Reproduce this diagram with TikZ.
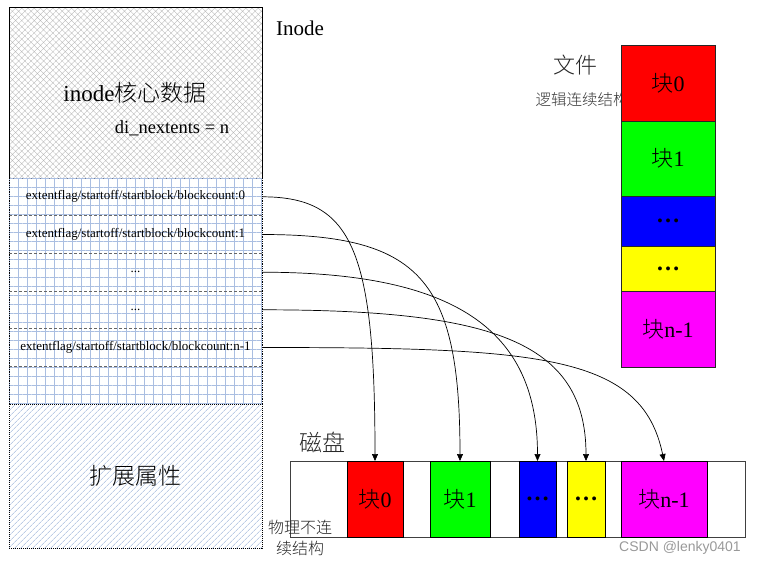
\documentclass[tikz,border=0pt]{standalone}
\usepackage{fontspec}
\setmainfont{Liberation Serif}
\newfontfamily\cjk{Noto Sans CJK SC}[UprightFont={* Light}]
\newfontfamily\wmfont{Liberation Sans}
\usetikzlibrary{patterns.meta,arrows.meta}
\definecolor{gridblue}{RGB}{170,190,225}
\definecolor{hatchblue}{RGB}{150,175,215}
\definecolor{cRed}{RGB}{255,0,0}
\definecolor{cGreen}{RGB}{0,255,0}
\definecolor{cBlue}{RGB}{0,0,255}
\definecolor{cYellow}{RGB}{255,255,0}
\definecolor{cMag}{RGB}{255,0,255}
\newcommand{\fs}[1]{\fontsize{#1}{#1}\selectfont}
\begin{document}
\begin{tikzpicture}[x=1pt,y=-1pt,
  region/.style={inner sep=0pt, outer sep=0pt, minimum width=253pt},
  rowbox/.style={inner sep=0pt, outer sep=0pt, minimum width=253pt, minimum height=37.67pt, font=\fs{13}},
  fblk/.style={draw=black!85, line width=0.8pt, inner sep=0pt, outer sep=0pt, minimum width=94pt, font=\fs{22}},
  dblk/.style={draw=black, line width=0.8pt, inner sep=0pt, outer sep=0pt, minimum height=76pt, font=\fs{22}},
  dots/.style={font=\fs{24}\bfseries},
  link/.style={line width=0.7pt, -{Triangle[length=7pt,width=6pt]}},
  sep/.style={dash pattern=on 3pt off 2pt, black!60, line width=0.5pt},
  lbl/.style={inner sep=0pt}
]
\useasboundingbox (0,0) rectangle (757,565);

% ---------- inode column ----------
\node[region, minimum height=171pt, draw=black, line width=0.9pt,
      pattern={Hatch[angle=45,distance=4.4pt,line width=0.35pt]}, pattern color=black!28]
      (core) at (135.5,92.5) {};
\node[region, minimum height=226pt,
      pattern={Hatch[angle=0,distance=9pt,line width=0.55pt]}, pattern color=gridblue]
      (ext) at (135.5,291) {};
\node[region, minimum height=144pt,
      pattern={Lines[angle=45,distance=4pt,line width=0.6pt]}, pattern color=hatchblue]
      (attr) at (135.5,476) {};
\draw[densely dotted, line width=0.8pt] (ext.north west) -- (ext.south west)
      (ext.north east) -- (ext.south east);
\draw[densely dotted, line width=1pt] (attr.north west) rectangle (attr.south east);

\node[lbl, font=\fs{21}] (inodelbl) at (300,28) {Inode};
\node[lbl, font=\fs{23}] (coretxt) at (135,93) {inode{\cjk 核心数据}};
\node[lbl, font=\fs{18.5}] (nexttxt) at (172,128) {di\_nextents = n};
\node[lbl, font=\fs{23}\cjk] (attrtxt) at (135,476) {扩展属性};

\node[rowbox] (e0) at (135.5,196.8) {extentflag/startoff/startblock/blockcount:0};
\node[rowbox] (e1) at (135.5,234.5) {extentflag/startoff/startblock/blockcount:1};
\node[rowbox] (e2) at (135.5,272.2) {...};
\node[rowbox] (e3) at (135.5,309.8) {...};
\node[rowbox] (e4) at (135.5,347.5) {extentflag/startoff/startblock/blockcount:n-1};
\node[rowbox] (e5) at (135.5,385.2) {};
\foreach \r in {e0,e1,e2,e3,e4}
  \draw[sep] (\r.south west) -- (\r.south east);

% ---------- file column ----------
\node[lbl, font=\fs{22}\cjk, text=black!85] (filelbl) at (575,65) {文件};
\node[lbl, font=\fs{15.5}\cjk, text=black!80] (logic) at (582,100) {逻辑连续结构};
\node[fblk, fill=cRed, minimum height=76pt] (f0) at (668,83) {{\cjk 块}0};
\node[fblk, fill=cGreen, minimum height=75pt] (f1) at (668,158.5) {{\cjk 块}1};
\node[fblk, fill=cBlue, minimum height=50pt] (f2) at (668,221) {};
\node[dots] at (f2.center) {…};
\node[fblk, fill=cYellow, minimum height=45pt] (f3) at (668,268.5) {};
\node[dots] at (f3.center) {…};
\node[fblk, fill=cMag, minimum height=76pt] (f4) at (668,329) {{\cjk 块}n-1};

% ---------- disk ----------
\node[lbl, font=\fs{23}\cjk, text=black!85] (disklbl) at (322,442) {磁盘};
\node[draw=black!75, line width=0.8pt, inner sep=0pt, outer sep=0pt,
      minimum width=455pt, minimum height=76pt] (disk) at (517.5,499) {};
\node[dblk, fill=cRed, minimum width=56pt] (d0) at (375,499) {{\cjk 块}0};
\node[dblk, fill=cGreen, minimum width=60pt] (d1) at (460,499) {{\cjk 块}1};
\node[dblk, fill=cBlue, minimum width=37pt] (d2) at (537.5,499) {};
\node[dots] at (d2.center) {…};
\node[dblk, fill=cYellow, minimum width=38pt] (d3) at (586,499) {};
\node[dots] at (d3.center) {…};
\node[dblk, fill=cMag, minimum width=86pt] (d4) at (664,499) {{\cjk 块}n-1};
\node[lbl, font=\fs{16}\cjk, align=center, text=black!85] (phys) at (300,537.5)
      {物理不连\\[5pt]续结构};
\node[lbl, font=\fs{14}\wmfont, text=black!40] (wm) at (680,548) {CSDN @lenky0401};

% ---------- links ----------
\draw[link] (e0.east) .. controls +(90,0) and +(0,-212) .. (d0.north);
\draw[link] (e1.east) .. controls +(158,0) and +(0,-182) .. (d1.north);
\draw[link] (e2.east) .. controls +(192,0) and +(0,-132) .. (d2.north);
\draw[link] (e3.east) .. controls +(227,0) and +(0,-121) .. (d3.north);
\draw[link] (e4.east) .. controls +(280,0) and +(-22,-106) .. (d4.north);
\end{tikzpicture}
\end{document}
